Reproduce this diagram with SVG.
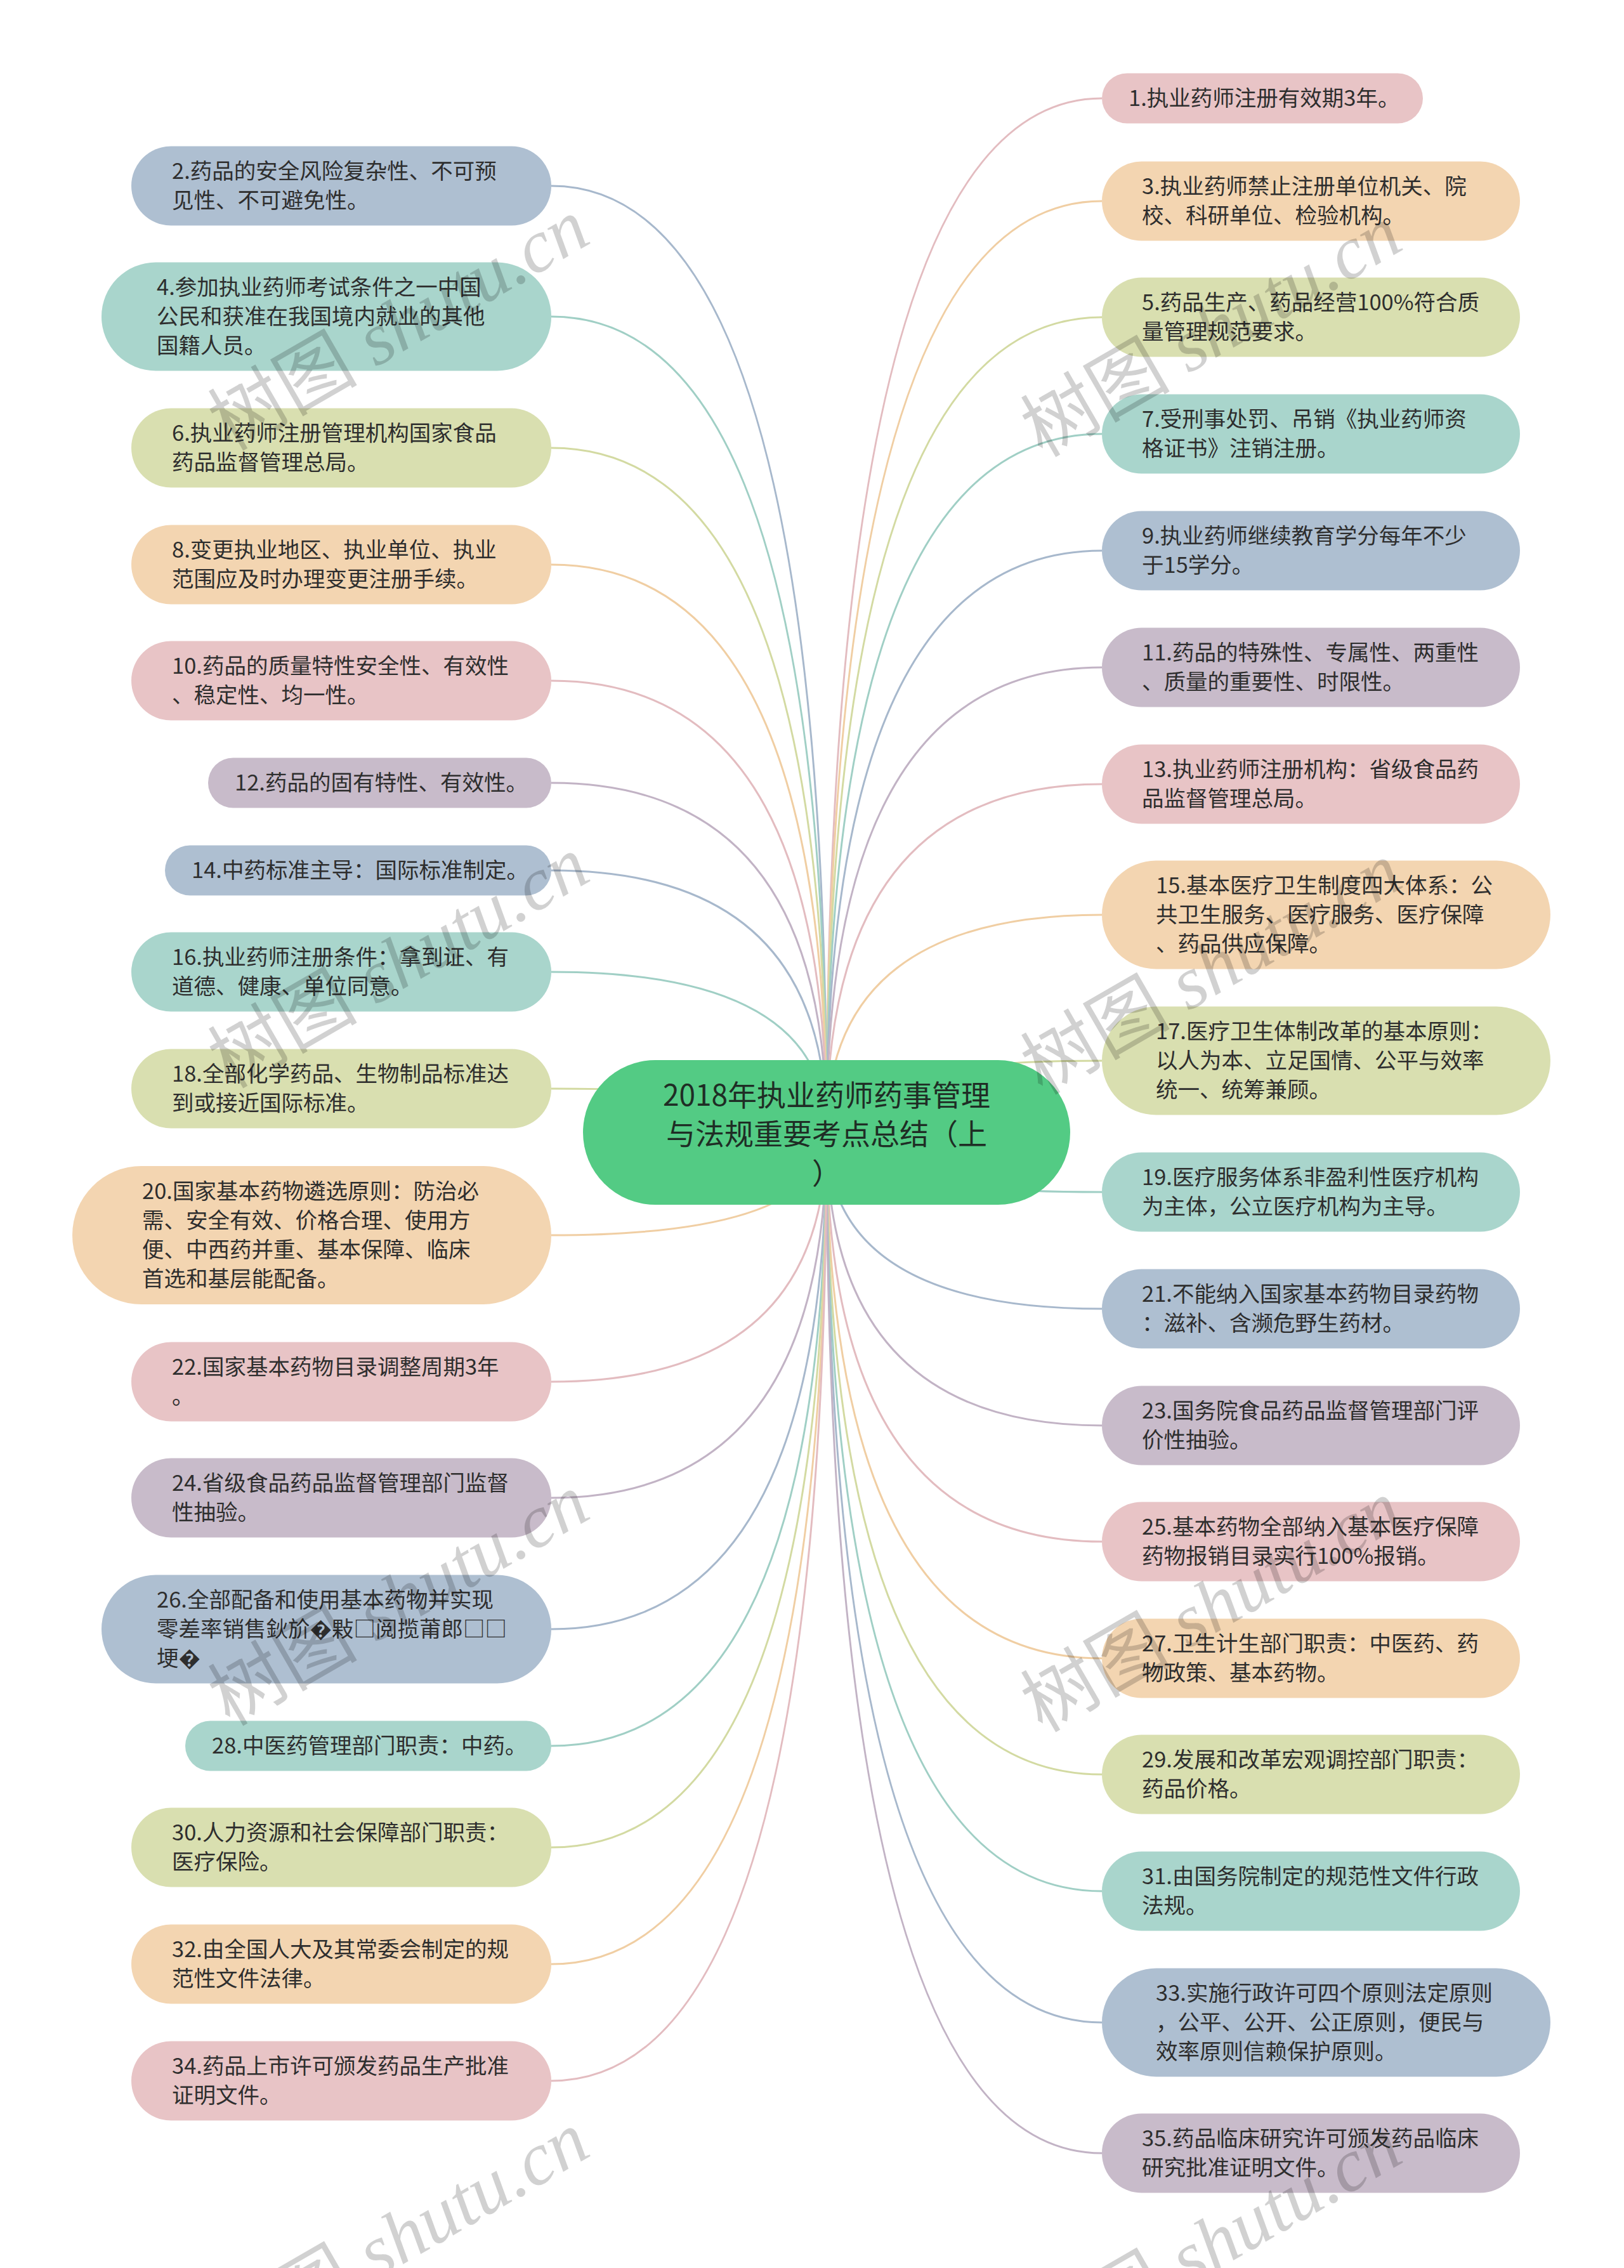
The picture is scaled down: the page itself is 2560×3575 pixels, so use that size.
<svg xmlns="http://www.w3.org/2000/svg" width="2560" height="3575" viewBox="0 0 2560 3575">
<style>
.n text{font-family:"Noto Sans CJK SC","Noto Sans",sans-serif;font-size:34.5px;fill:#2e2e2e}
.root text{font-family:"Noto Sans CJK SC","Noto Sans",sans-serif;font-size:46px;fill:#1f2d25;text-anchor:middle}
#connectors path{fill:none;stroke-width:3}
.pk{fill:#e8c4c6}.pe{fill:#f3d5b1}.ol{fill:#d9dfb0}.te{fill:#a9d5cc}.bg{fill:#aebfd1}.la{fill:#c8bbca}
.lpk{stroke:#e3bcc0}.lpe{stroke:#f0cea3}.lol{stroke:#d3daa2}.lte{stroke:#a0cfc5}.lbg{stroke:#a7b8cc}.lla{stroke:#c2b3c5}
.wm{font-family:"Liberation Serif","Noto Sans CJK SC",serif;font-style:italic;font-size:118px;fill:#000;fill-opacity:0.18}
.wm tspan{font-style:normal;font-family:"Noto Sans CJK SC",sans-serif}
</style>
<rect width="2560" height="3575" fill="#ffffff"/>
<g id="connectors">
<path class="lpk" d="M1303,1785 Q1303,155 1737,155"/>
<path class="lpe" d="M1303,1785 Q1303,317 1737,317"/>
<path class="lol" d="M1303,1785 Q1303,500 1737,500"/>
<path class="lte" d="M1303,1785 Q1303,684 1737,684"/>
<path class="lbg" d="M1303,1785 Q1303,868 1737,868"/>
<path class="lla" d="M1303,1785 Q1303,1052 1737,1052"/>
<path class="lpk" d="M1303,1785 Q1303,1236 1737,1236"/>
<path class="lpe" d="M1303,1785 Q1303,1442 1737,1442"/>
<path class="lol" d="M1303,1785 Q1303,1672 1737,1672"/>
<path class="lte" d="M1303,1785 Q1303,1879 1737,1879"/>
<path class="lbg" d="M1303,1785 Q1303,2063 1737,2063"/>
<path class="lla" d="M1303,1785 Q1303,2247 1737,2247"/>
<path class="lpk" d="M1303,1785 Q1303,2430 1737,2430"/>
<path class="lpe" d="M1303,1785 Q1303,2614 1737,2614"/>
<path class="lol" d="M1303,1785 Q1303,2797 1737,2797"/>
<path class="lte" d="M1303,1785 Q1303,2981 1737,2981"/>
<path class="lbg" d="M1303,1785 Q1303,3188 1737,3188"/>
<path class="lla" d="M1303,1785 Q1303,3394 1737,3394"/>
<path class="lbg" d="M1303,1785 Q1303,293 869,293"/>
<path class="lte" d="M1303,1785 Q1303,499 869,499"/>
<path class="lol" d="M1303,1785 Q1303,706 869,706"/>
<path class="lpe" d="M1303,1785 Q1303,890 869,890"/>
<path class="lpk" d="M1303,1785 Q1303,1073 869,1073"/>
<path class="lla" d="M1303,1785 Q1303,1234 869,1234"/>
<path class="lbg" d="M1303,1785 Q1303,1372 869,1372"/>
<path class="lte" d="M1303,1785 Q1303,1532 869,1532"/>
<path class="lol" d="M1303,1785 Q1303,1716 869,1716"/>
<path class="lpe" d="M1303,1785 Q1303,1947 869,1947"/>
<path class="lpk" d="M1303,1785 Q1303,2178 869,2178"/>
<path class="lla" d="M1303,1785 Q1303,2361 869,2361"/>
<path class="lbg" d="M1303,1785 Q1303,2568 869,2568"/>
<path class="lte" d="M1303,1785 Q1303,2752 869,2752"/>
<path class="lol" d="M1303,1785 Q1303,2912 869,2912"/>
<path class="lpe" d="M1303,1785 Q1303,3096 869,3096"/>
<path class="lpk" d="M1303,1785 Q1303,3280 869,3280"/>
</g>
<g id="root" class="root">
<rect x="919" y="1671" width="768" height="228" rx="114" fill="#53cb84"/>
<text x="1303" y="1743">2018年执业药师药事管理</text>
<text x="1303" y="1804">与法规重要考点总结（上</text>
<text x="1303" y="1866">）</text>
</g>
<g id="n1" class="n"><rect class="pk" x="1737" y="115.5" width="506" height="79" rx="39.5"/><text x="1779" y="167">1.执业药师注册有效期3年。</text></g>
<g id="n3" class="n"><rect class="pe" x="1737" y="254.5" width="659" height="125" rx="62.5"/><text x="1800" y="306">3.执业药师禁止注册单位机关、院</text><text x="1800" y="352">校、科研单位、检验机构。</text></g>
<g id="n5" class="n"><rect class="ol" x="1737" y="437.5" width="659" height="125" rx="62.5"/><text x="1800" y="489">5.药品生产、药品经营100%符合质</text><text x="1800" y="535">量管理规范要求。</text></g>
<g id="n7" class="n"><rect class="te" x="1737" y="621.5" width="659" height="125" rx="62.5"/><text x="1800" y="673">7.受刑事处罚、吊销《执业药师资</text><text x="1800" y="719">格证书》注销注册。</text></g>
<g id="n9" class="n"><rect class="bg" x="1737" y="805.5" width="659" height="125" rx="62.5"/><text x="1800" y="857">9.执业药师继续教育学分每年不少</text><text x="1800" y="903">于15学分。</text></g>
<g id="n11" class="n"><rect class="la" x="1737" y="989.5" width="659" height="125" rx="62.5"/><text x="1800" y="1041">11.药品的特殊性、专属性、两重性</text><text x="1800" y="1087">、质量的重要性、时限性。</text></g>
<g id="n13" class="n"><rect class="pk" x="1737" y="1173.5" width="659" height="125" rx="62.5"/><text x="1800" y="1225">13.执业药师注册机构：省级食品药</text><text x="1800" y="1271">品监督管理总局。</text></g>
<g id="n15" class="n"><rect class="pe" x="1737" y="1356.5" width="707" height="171" rx="85.5"/><text x="1822" y="1408">15.基本医疗卫生制度四大体系：公</text><text x="1822" y="1454">共卫生服务、医疗服务、医疗保障</text><text x="1822" y="1500">、药品供应保障。</text></g>
<g id="n17" class="n"><rect class="ol" x="1737" y="1586.5" width="707" height="171" rx="85.5"/><text x="1822" y="1638">17.医疗卫生体制改革的基本原则：</text><text x="1822" y="1684">以人为本、立足国情、公平与效率</text><text x="1822" y="1730">统一、统筹兼顾。</text></g>
<g id="n19" class="n"><rect class="te" x="1737" y="1816.5" width="659" height="125" rx="62.5"/><text x="1800" y="1868">19.医疗服务体系非盈利性医疗机构</text><text x="1800" y="1914">为主体，公立医疗机构为主导。</text></g>
<g id="n21" class="n"><rect class="bg" x="1737" y="2000.5" width="659" height="125" rx="62.5"/><text x="1800" y="2052">21.不能纳入国家基本药物目录药物</text><text x="1800" y="2098">：滋补、含濒危野生药材。</text></g>
<g id="n23" class="n"><rect class="la" x="1737" y="2184.5" width="659" height="125" rx="62.5"/><text x="1800" y="2236">23.国务院食品药品监督管理部门评</text><text x="1800" y="2282">价性抽验。</text></g>
<g id="n25" class="n"><rect class="pk" x="1737" y="2367.5" width="659" height="125" rx="62.5"/><text x="1800" y="2419">25.基本药物全部纳入基本医疗保障</text><text x="1800" y="2465">药物报销目录实行100%报销。</text></g>
<g id="n27" class="n"><rect class="pe" x="1737" y="2551.5" width="659" height="125" rx="62.5"/><text x="1800" y="2603">27.卫生计生部门职责：中医药、药</text><text x="1800" y="2649">物政策、基本药物。</text></g>
<g id="n29" class="n"><rect class="ol" x="1737" y="2734.5" width="659" height="125" rx="62.5"/><text x="1800" y="2786">29.发展和改革宏观调控部门职责：</text><text x="1800" y="2832">药品价格。</text></g>
<g id="n31" class="n"><rect class="te" x="1737" y="2918.5" width="659" height="125" rx="62.5"/><text x="1800" y="2970">31.由国务院制定的规范性文件行政</text><text x="1800" y="3016">法规。</text></g>
<g id="n33" class="n"><rect class="bg" x="1737" y="3102.5" width="707" height="171" rx="85.5"/><text x="1822" y="3154">33.实施行政许可四个原则法定原则</text><text x="1822" y="3200">，公平、公开、公正原则，便民与</text><text x="1822" y="3246">效率原则信赖保护原则。</text></g>
<g id="n35" class="n"><rect class="la" x="1737" y="3331.5" width="659" height="125" rx="62.5"/><text x="1800" y="3383">35.药品临床研究许可颁发药品临床</text><text x="1800" y="3429">研究批准证明文件。</text></g>
<g id="n2" class="n"><rect class="bg" x="207" y="230.5" width="662" height="125" rx="62.5"/><text x="271" y="282">2.药品的安全风险复杂性、不可预</text><text x="271" y="328">见性、不可避免性。</text></g>
<g id="n4" class="n"><rect class="te" x="160" y="413.5" width="709" height="171" rx="85.5"/><text x="247" y="465">4.参加执业药师考试条件之一中国</text><text x="247" y="511">公民和获准在我国境内就业的其他</text><text x="247" y="557">国籍人员。</text></g>
<g id="n6" class="n"><rect class="ol" x="207" y="643.5" width="662" height="125" rx="62.5"/><text x="271" y="695">6.执业药师注册管理机构国家食品</text><text x="271" y="741">药品监督管理总局。</text></g>
<g id="n8" class="n"><rect class="pe" x="207" y="827.5" width="662" height="125" rx="62.5"/><text x="271" y="879">8.变更执业地区、执业单位、执业</text><text x="271" y="925">范围应及时办理变更注册手续。</text></g>
<g id="n10" class="n"><rect class="pk" x="207" y="1010.5" width="662" height="125" rx="62.5"/><text x="271" y="1062">10.药品的质量特性安全性、有效性</text><text x="271" y="1108">、稳定性、均一性。</text></g>
<g id="n12" class="n"><rect class="la" x="328" y="1194.5" width="541" height="79" rx="39.5"/><text x="370" y="1246">12.药品的固有特性、有效性。</text></g>
<g id="n14" class="n"><rect class="bg" x="260" y="1332.5" width="609" height="79" rx="39.5"/><text x="302" y="1384">14.中药标准主导：国际标准制定。</text></g>
<g id="n16" class="n"><rect class="te" x="207" y="1469.5" width="662" height="125" rx="62.5"/><text x="271" y="1521">16.执业药师注册条件：拿到证、有</text><text x="271" y="1567">道德、健康、单位同意。</text></g>
<g id="n18" class="n"><rect class="ol" x="207" y="1653.5" width="662" height="125" rx="62.5"/><text x="271" y="1705">18.全部化学药品、生物制品标准达</text><text x="271" y="1751">到或接近国际标准。</text></g>
<g id="n20" class="n"><rect class="pe" x="114" y="1838" width="755" height="218" rx="109"/><text x="224" y="1890">20.国家基本药物遴选原则：防治必</text><text x="224" y="1936">需、安全有效、价格合理、使用方</text><text x="224" y="1982">便、中西药并重、基本保障、临床</text><text x="224" y="2028">首选和基层能配备。</text></g>
<g id="n22" class="n"><rect class="pk" x="207" y="2115.5" width="662" height="125" rx="62.5"/><text x="271" y="2167">22.国家基本药物目录调整周期3年</text><text x="271" y="2213">。</text></g>
<g id="n24" class="n"><rect class="la" x="207" y="2298.5" width="662" height="125" rx="62.5"/><text x="271" y="2350">24.省级食品药品监督管理部门监督</text><text x="271" y="2396">性抽验。</text></g>
<g id="n26" class="n"><rect class="bg" x="160" y="2482.5" width="709" height="171" rx="85.5"/><text x="247" y="2534">26.全部配备和使用基本药物并实现</text><text x="247" y="2580">零差率销售鈥斺�敤□阅揽莆郎□□</text><text x="247" y="2626">埂�</text></g>
<g id="n28" class="n"><rect class="te" x="292" y="2712.5" width="577" height="79" rx="39.5"/><text x="334" y="2764">28.中医药管理部门职责：中药。</text></g>
<g id="n30" class="n"><rect class="ol" x="207" y="2849.5" width="662" height="125" rx="62.5"/><text x="271" y="2901">30.人力资源和社会保障部门职责：</text><text x="271" y="2947">医疗保险。</text></g>
<g id="n32" class="n"><rect class="pe" x="207" y="3033.5" width="662" height="125" rx="62.5"/><text x="271" y="3085">32.由全国人大及其常委会制定的规</text><text x="271" y="3131">范性文件法律。</text></g>
<g id="n34" class="n"><rect class="pk" x="207" y="3217.5" width="662" height="125" rx="62.5"/><text x="271" y="3269">34.药品上市许可颁发药品生产批准</text><text x="271" y="3315">证明文件。</text></g>
<g id="watermarks" class="wm">
<text transform="translate(362,712) rotate(-30)"><tspan>树图</tspan> shutu.cn</text>
<text transform="translate(1643,722) rotate(-30)"><tspan>树图</tspan> shutu.cn</text>
<text transform="translate(362,1717) rotate(-30)"><tspan>树图</tspan> shutu.cn</text>
<text transform="translate(1643,1727) rotate(-30)"><tspan>树图</tspan> shutu.cn</text>
<text transform="translate(362,2722) rotate(-30)"><tspan>树图</tspan> shutu.cn</text>
<text transform="translate(1643,2732) rotate(-30)"><tspan>树图</tspan> shutu.cn</text>
<text transform="translate(362,3727) rotate(-30)"><tspan>树图</tspan> shutu.cn</text>
<text transform="translate(1643,3737) rotate(-30)"><tspan>树图</tspan> shutu.cn</text>
</g>
</svg>
